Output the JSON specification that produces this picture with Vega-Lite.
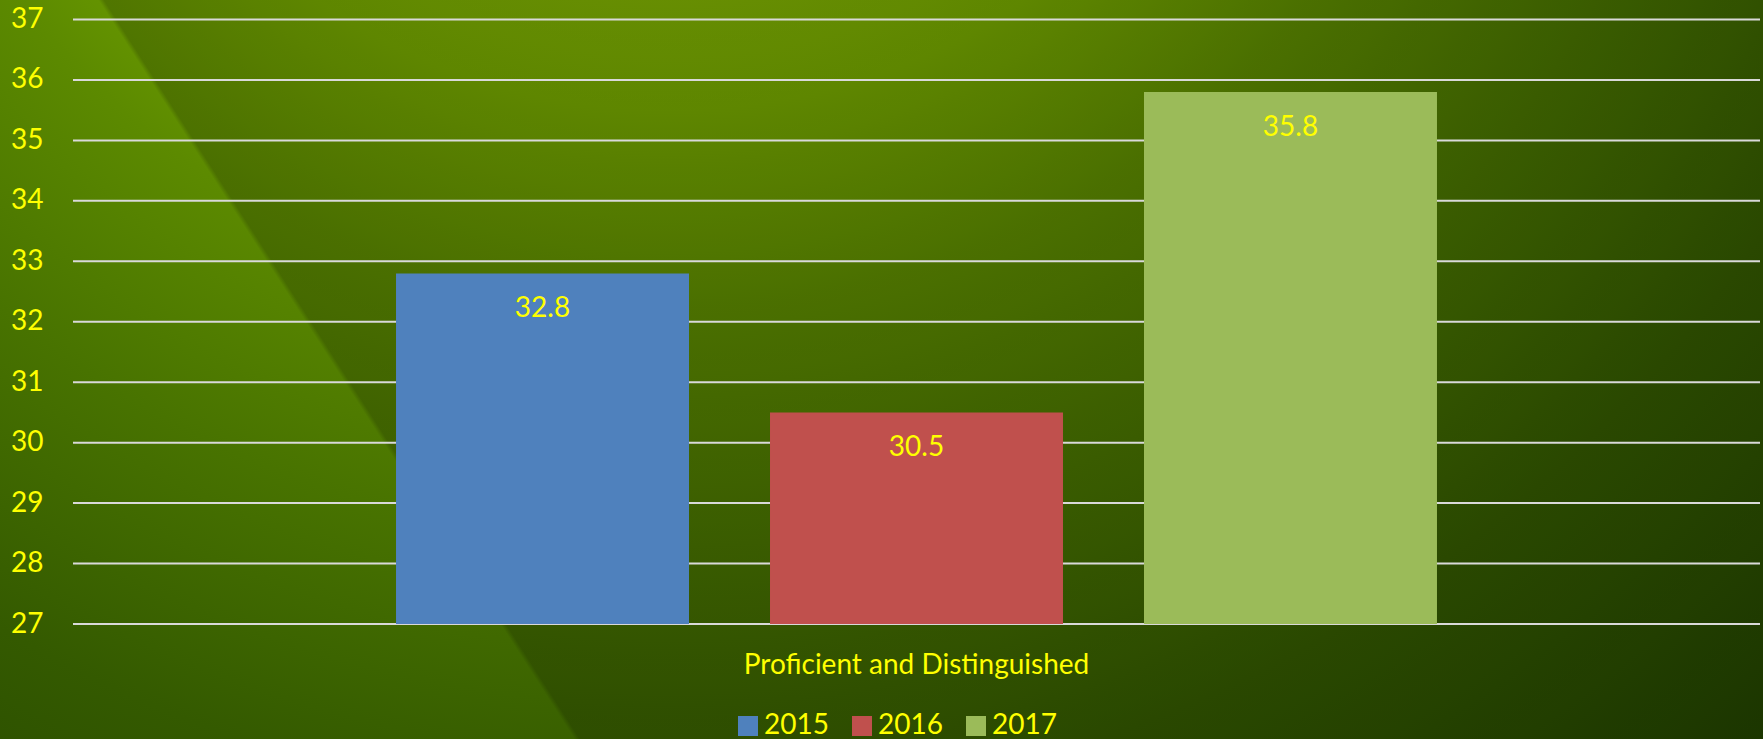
{
  "$schema": "https://vega.github.io/schema/vega-lite/v6.json",
  "width": 1763,
  "height": 739,
  "autosize": {"type": "none"},
  "padding": 0,
  "background": "#183200",
  "config": {"view": {"stroke": null}, "font": "Lato"},
  "layer": [
    {
      "data": {"values": [{}]},
      "mark": {
        "type": "rect",
        "fill": {
          "gradient": "radial",
          "x1": 0.38, "y1": 0, "r1": 0,
          "x2": 0.38, "y2": 0, "r2": 1,
          "stops": [
            {"offset": 0, "color": "#9bca08"},
            {"offset": 0.2, "color": "#8ebe05"},
            {"offset": 0.35, "color": "#76a800"},
            {"offset": 0.47, "color": "#5c8a00"},
            {"offset": 0.6, "color": "#487300"},
            {"offset": 0.75, "color": "#345a00"},
            {"offset": 0.9, "color": "#264800"},
            {"offset": 1, "color": "#1d3d00"}
          ]
        }
      },
      "encoding": {}
    },
    {
      "data": {"values": [{}]},
      "mark": {
        "type": "rect",
        "fill": {
          "gradient": "linear",
          "x1": 0, "y1": 0, "x2": 1, "y2": -0.27,
          "stops": [
            {"offset": 0, "color": "rgba(0,0,0,0)"},
            {"offset": 0.052, "color": "rgba(0,0,0,0)"},
            {"offset": 0.055, "color": "rgba(0,0,0,0.2)"},
            {"offset": 1, "color": "rgba(0,0,0,0.2)"}
          ]
        }
      },
      "encoding": {}
    },
    {
      "data": {"values": [{"value": 27}, {"value": 28}, {"value": 29}, {"value": 30}, {"value": 31}, {"value": 32}, {"value": 33}, {"value": 34}, {"value": 35}, {"value": 36}, {"value": 37}]},
      "mark": {"type": "rule", "color": "#d9d9d9", "strokeWidth": 2},
      "encoding": {
        "y": {"field": "value", "type": "quantitative"},
        "x": {"datum": "Proficient and Distinguished", "type": "nominal", "bandPosition": -0.2518},
        "x2": {"datum": "Proficient and Distinguished", "bandPosition": 1.2518}
      }
    },
    {
      "data": {"values": [
        {"group": "Proficient and Distinguished", "year": "2015", "value": 32.8},
        {"group": "Proficient and Distinguished", "year": "2016", "value": 30.5},
        {"group": "Proficient and Distinguished", "year": "2017", "value": 35.8}
      ]},
      "layer": [
        {
          "mark": {"type": "bar"},
          "encoding": {
            "color": {
              "field": "year", "type": "nominal",
              "scale": {"domain": ["2015", "2016", "2017"], "range": ["#4f81bd", "#c0504d", "#9bbb59"]},
              "legend": {
                "orient": "none", "legendX": 734, "legendY": 712, "direction": "horizontal",
                "title": null, "symbolType": "square", "symbolSize": 400, "symbolStrokeWidth": 0,
                "symbolOpacity": 1, "labelFontSize": 28, "labelColor": "#ffff00", "labelFont": "Lato",
                "labelOffset": 2, "columnPadding": 19, "zindex": 1
              }
            },
            "y2": {"datum": 27}
          }
        },
        {
          "mark": {"type": "text", "dy": 36, "fontSize": 28, "color": "#ffff00", "font": "Lato", "baseline": "middle"},
          "encoding": {"text": {"field": "value", "type": "quantitative", "format": ".1f"}}
        }
      ],
      "encoding": {
        "x": {
          "field": "group", "type": "nominal",
          "scale": {"type": "band", "range": [73, 1760], "paddingInner": 0, "paddingOuter": 0.2518},
          "axis": {"orient": "bottom", "offset": -115, "zindex": 1, "domain": false, "ticks": false, "tickSize": 0, "labelPadding": 41, "labelLimit": 0, "labelAlign": "center", "labelColor": "#ffff00", "labelFontSize": 28, "labelFont": "Lato", "labelAngle": 0, "title": null, "grid": false}
        },
        "xOffset": {
          "field": "year", "type": "nominal",
          "scale": {"domain": ["2015", "2016", "2017"], "paddingInner": 0.2166, "paddingOuter": 0.1083}
        },
        "y": {
          "field": "value", "type": "quantitative",
          "scale": {"domain": [27, 37], "range": [624, 19.5], "zero": false, "nice": false},
          "axis": {"orient": "left", "offset": -43, "zindex": 1, "grid": false, "domain": false, "ticks": false, "tickSize": 0, "labelPadding": 0, "format": "d", "values": [27, 28, 29, 30, 31, 32, 33, 34, 35, 36, 37], "labelColor": "#ffff00", "labelFontSize": 28, "labelFont": "Lato", "title": null}
        }
      }
    }
  ]
}
